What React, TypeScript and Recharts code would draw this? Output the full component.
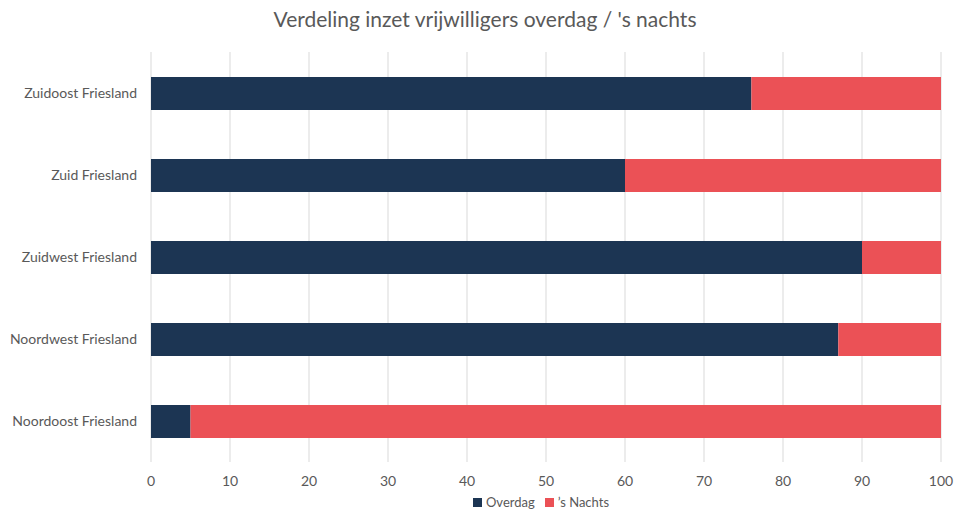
import React from 'react';
import { BarChart, Bar, XAxis, YAxis, CartesianGrid, Legend } from 'recharts';

// regio's van boven naar beneden
const regios = ['Zuidoost Friesland', 'Zuid Friesland', 'Zuidwest Friesland', 'Noordwest Friesland', 'Noordoost Friesland'];
const overdag = [76, 60, 90, 87, 5];
const nachts = [24, 40, 10, 13, 95];
const xTicks = [0, 10, 20, 30, 40, 50, 60, 70, 80, 90, 100];

const data = regios.map((regio, i) => ({ regio, overdag: overdag[i], nachts: nachts[i] }));

const FONT = 'Lato, "Open Sans", sans-serif';
const GRIJS = '#595959';

const App: React.FC = () => {
  return (
    <div style={{ position: 'absolute', left: 0, top: 0, width: 970, height: 511, fontFamily: FONT }}>
      <div
        style={{
          position: 'absolute',
          top: 6,
          left: 0,
          width: 970,
          textAlign: 'center',
          fontSize: 21,
          color: GRIJS,
        }}
      >
        Verdeling inzet vrijwilligers overdag / 's nachts
      </div>
      <BarChart
        width={970}
        height={511}
        data={data}
        layout="vertical"
        margin={{ top: 52, right: 29, bottom: 0, left: 0 }}
      >
        <CartesianGrid horizontal={false} stroke="#d9d9d9" />
        <XAxis
          type="number"
          domain={[0, 100]}
          ticks={xTicks}
          axisLine={false}
          tickLine={false}
          height={29}
          tickMargin={8}
          tick={{ fill: GRIJS, fontSize: 14 }}
        />
        <YAxis
          type="category"
          dataKey="regio"
          width={151}
          axisLine={false}
          tickLine={false}
          tickMargin={8}
          tick={{ fill: GRIJS, fontSize: 14 }}
        />
        <Legend
          verticalAlign="bottom"
          height={20}
          iconType="square"
          iconSize={9}
          wrapperStyle={{ left: 151, width: 790 }}
          formatter={(value: string) => <span style={{ color: GRIJS, fontSize: 13 }}>{value}</span>}
        />
        <Bar dataKey="overdag" name="Overdag" stackId="a" fill="#1c3553" barSize={33} isAnimationActive={false} />
        <Bar dataKey="nachts" name="’s Nachts" stackId="a" fill="#eb5156" barSize={33} isAnimationActive={false} />
      </BarChart>
    </div>
  );
};

export default App;
